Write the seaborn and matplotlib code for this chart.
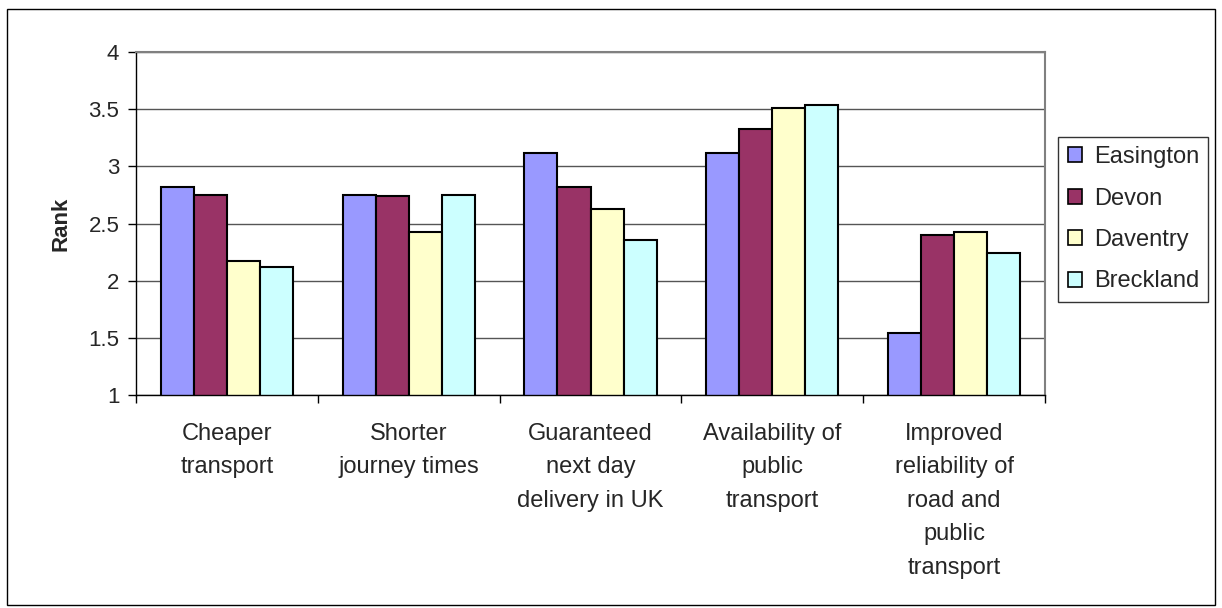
import matplotlib
matplotlib.use('Agg')
import matplotlib.pyplot as plt
import pandas as pd
import seaborn as sns
from matplotlib.patches import Rectangle

# Dados do grafico
categorias = ['Cheaper\ntransport', 'Shorter\njourney times', 'Guaranteed\nnext day\ndelivery in UK',
              'Availability of\npublic\ntransport', 'Improved\nreliability of\nroad and\npublic\ntransport']
regioes = ['Easington', 'Devon', 'Daventry', 'Breckland']
easington = [2.82, 2.75, 3.12, 3.12, 1.54]
devon = [2.75, 2.74, 2.82, 3.33, 2.40]
daventry = [2.17, 2.43, 2.63, 3.51, 2.43]
breckland = [2.12, 2.75, 2.36, 3.54, 2.24]
cores = ['#9999FF', '#993366', '#FFFFCC', '#CCFFFF']

valores = {'Easington': easington, 'Devon': devon, 'Daventry': daventry, 'Breckland': breckland}
linhas = []
for reg in regioes:
    for cat, v in zip(categorias, valores[reg]):
        linhas.append({'Categoria': cat, 'Regiao': reg, 'Rank': v})
df = pd.DataFrame(linhas)

sns.set_style('white')
plt.rcParams['font.family'] = ['Liberation Sans', 'DejaVu Sans']

fig = plt.figure(figsize=(12.22, 6.08), dpi=100)
ax = fig.add_axes([0.1113, 0.3503, 0.7439, 0.5642])

sns.barplot(data=df, x='Categoria', y='Rank', hue='Regiao', order=categorias, hue_order=regioes,
            palette=cores, width=0.727, edgecolor='black', linewidth=1.5, saturation=1, ax=ax)

ax.set_ylim(1, 4)
ax.set_xlim(-0.5, len(categorias) - 0.5)
ax.set_yticks([1, 1.5, 2, 2.5, 3, 3.5, 4])
ax.set_yticklabels(['1', '1.5', '2', '2.5', '3', '3.5', '4'], fontsize=16)
ax.yaxis.grid(True, color='#555555', linewidth=1)
ax.set_axisbelow(True)
ax.tick_params(axis='y', left=True, length=6, width=1, color='black', pad=6)

# ticks nas divisorias das categorias
ax.set_xticks(range(len(categorias)))
ax.set_xticklabels(categorias, fontsize=17, linespacing=1.68, va='top')
ax.set_xticks([i - 0.5 for i in range(len(categorias) + 1)], minor=True)
ax.tick_params(axis='x', which='major', length=0, pad=20)
ax.tick_params(axis='x', which='minor', bottom=True, length=6, width=1, color='black')

ax.set_xlabel('')
ax.set_ylabel('Rank', fontsize=16, fontweight='bold', labelpad=12)

for lado in ['top', 'right']:
    ax.spines[lado].set_color('#808080')
    ax.spines[lado].set_linewidth(1.5)
for lado in ['left', 'bottom']:
    ax.spines[lado].set_color('black')
    ax.spines[lado].set_linewidth(1)

ax.legend_.remove()
handles = [Rectangle((0, 0), 1, 1, facecolor=c, edgecolor='black', linewidth=1.2) for c in cores]
leg = fig.legend(handles, regioes, loc='upper left', bbox_to_anchor=(0.866, 0.775), fontsize=17,
                 frameon=True, fancybox=False, handlelength=0.6, handleheight=0.6,
                 handletextpad=0.5, labelspacing=0.82, borderpad=0.4, borderaxespad=0)
leg.get_frame().set_edgecolor('black')
leg.get_frame().set_linewidth(1)

# borda externa
fig.patches.append(Rectangle((0.006, 0.005), 0.988, 0.981, transform=fig.transFigure,
                             fill=False, edgecolor='black', linewidth=1))

fig.savefig('out.png', dpi=100)
